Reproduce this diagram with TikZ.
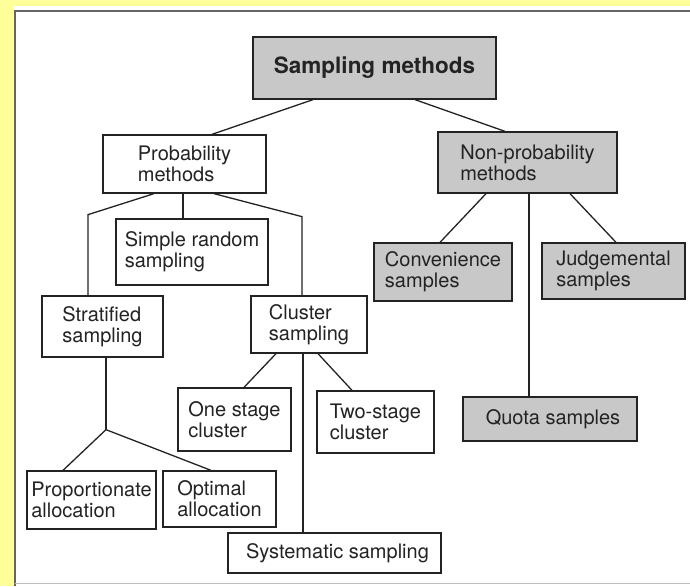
\documentclass[tikz,border=0pt]{standalone}
\usepackage{fontspec}
\setmainfont{TeX Gyre Heros}
\definecolor{bgyellow}{RGB}{255,255,153}
\definecolor{boxgray}{RGB}{200,200,200}
\definecolor{inkc}{RGB}{35,35,35}
\begin{document}
\begin{tikzpicture}[x=1pt,y=-1pt,
  every node/.style={font=\fontsize{20}{21}\selectfont, text=inkc},
  plainbox/.style={draw=inkc, line width=1.3pt, fill=white, inner sep=0pt, align=left, anchor=center},
  graybox/.style={plainbox, fill=boxgray},
  link/.style={draw=inkc, line width=1.3pt}
]
\useasboundingbox (0,0) rectangle (690,586);
\fill[bgyellow] (0,0) rectangle (690,586);
\fill[white] (13,6) rectangle (690,586);
\draw[inkc!70, line width=1.5pt] (15,586) -- (15,11) -- (690,11);
\draw[inkc!30, line width=0.8pt] (15,583) -- (690,583);

\node[graybox, minimum width=243pt, minimum height=62pt, font=\fontsize{22.5}{24}\selectfont\bfseries] (sm) at (374.5,68) {Sampling methods};
\node[plainbox, minimum width=163pt, minimum height=58pt] (prob) at (184.5,164) {Probability\\methods};
\node[graybox, minimum width=179pt, minimum height=61pt] (nonprob) at (527.5,162.5) {Non-probability\\methods};
\node[plainbox, minimum width=152pt, minimum height=66pt] (srs) at (192,252) {Simple random\\sampling};
\node[plainbox, minimum width=121pt, minimum height=61pt] (strat) at (102.5,326.5) {Stratified\\sampling};
\node[plainbox, minimum width=116pt, minimum height=57pt] (clus) at (309,324.5) {Cluster\\sampling};
\node[graybox, minimum width=138pt, minimum height=58pt] (conv) at (443,272) {Convenience\\samples};
\node[graybox, minimum width=143pt, minimum height=56pt] (judg) at (613.5,271) {Judgemental\\samples};
\node[plainbox, minimum width=113pt, minimum height=63pt] (one) at (234.5,419.5) {One stage\\cluster};
\node[plainbox, minimum width=117pt, minimum height=62pt] (two) at (375.5,422) {Two-stage\\cluster};
\node[graybox, minimum width=174pt, minimum height=44pt] (quota) at (550,419) {\hspace{6pt}Quota samples};
\node[plainbox, minimum width=129pt, minimum height=58pt] (prop) at (91.5,500) {Proportionate\\allocation};
\node[plainbox, minimum width=113pt, minimum height=56pt] (opt) at (219.5,499) {Optimal\\allocation};
\node[plainbox, minimum width=213pt, minimum height=40pt] (sys) at (334.5,553) {\hspace{6pt}Systematic sampling};

% connectors
\draw[link] ([xshift=-61.5pt]sm.south) -- ([xshift=27.5pt]prob.north);
\draw[link] ([xshift=40.5pt]sm.south) -- ([xshift=-22.5pt]nonprob.north);

\draw[link] ([xshift=-30.5pt]prob.south) -- ++(-66,21) -- ([xshift=-14.5pt]strat.north);
\draw[link] ([xshift=-1.5pt]prob.south) -- ([xshift=-1.5pt]prob.south |- srs.north);
\draw[link] ([xshift=29.5pt]prob.south) -- ++(88,23) -- ([xshift=-7pt]clus.north);

\draw[link] ([xshift=-41.5pt]nonprob.south) -- ([xshift=-3pt]conv.north);
\draw[link] ([xshift=1.5pt]nonprob.south) -- ([xshift=1.5pt]nonprob.south |- quota.north);
\draw[link] ([xshift=42.5pt]nonprob.south) -- ([xshift=2.5pt]judg.north);

\coordinate (sbranch) at ([xshift=3.5pt,yshift=-72pt]strat.south);
\draw[link] ([xshift=3.5pt]strat.south) -- (sbranch);
\draw[link] (sbranch) -- ([xshift=-28.5pt]prop.north);
\draw[link] (sbranch) -- ([xshift=-8.5pt]opt.north);

\draw[link] ([xshift=-33pt]clus.south) -- ([xshift=9.5pt]one.north);
\draw[link] ([xshift=-6pt]clus.south) -- ([xshift=-6pt]clus.south |- sys.north);
\draw[link] ([xshift=9pt]clus.south) -- ([xshift=-23.5pt]two.north);
\end{tikzpicture}
\end{document}
